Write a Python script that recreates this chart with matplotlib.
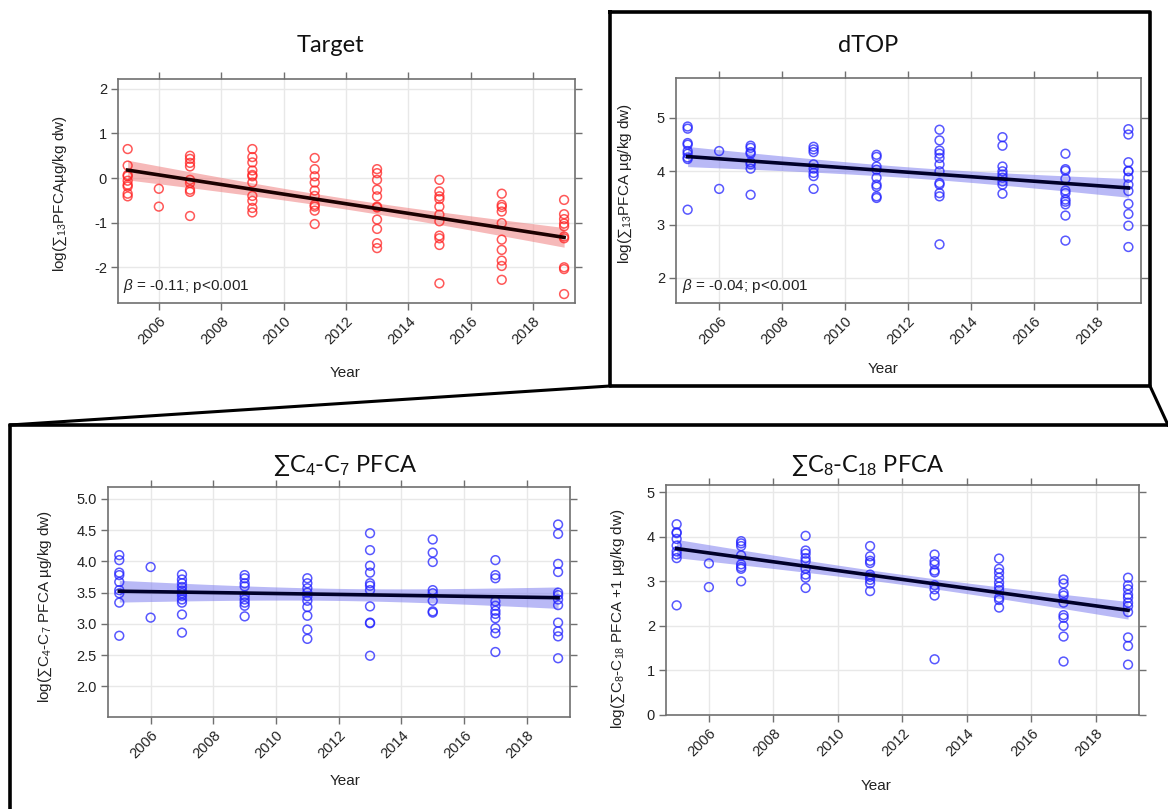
import numpy as np
import matplotlib
matplotlib.use("Agg")
import matplotlib.pyplot as plt
from matplotlib.lines import Line2D

plt.rcParams['font.family'] = ['Liberation Sans', 'DejaVu Sans']
plt.rcParams['mathtext.fontset'] = 'custom'
plt.rcParams['mathtext.rm'] = 'Liberation Sans'
plt.rcParams['mathtext.it'] = 'Liberation Sans:italic'
plt.rcParams['mathtext.bf'] = 'Liberation Sans:bold'

# ---------------- data ----------------
years = [2005, 2006, 2007, 2009, 2011, 2013, 2015, 2017, 2019]
year_ticks = [2006, 2008, 2010, 2012, 2014, 2016, 2018]

target_vals = [
    [0.65, 0.28, 0.07, 0.04, -0.06, -0.15, -0.19, -0.35, -0.41],
    [-0.24, -0.64],
    [0.50, 0.43, 0.34, 0.26, -0.04, -0.11, -0.26, -0.31, -0.85],
    [0.65, 0.47, 0.35, 0.17, 0.07, 0.04, -0.10, -0.40, -0.51, -0.67, -0.77],
    [0.45, 0.20, 0.04, -0.10, -0.28, -0.40, -0.60, -0.64, -0.73, -1.03],
    [0.20, 0.11, -0.04, -0.26, -0.41, -0.64, -0.66, -0.93, -1.14, -1.46, -1.57],
    [-0.04, -0.30, -0.41, -0.47, -0.64, -0.82, -0.97, -1.29, -1.35, -1.50, -2.36],
    [-0.35, -0.60, -0.65, -0.75, -1.01, -1.38, -1.61, -1.85, -1.97, -2.28],
    [-0.49, -0.81, -0.92, -1.02, -1.08, -1.31, -1.35, -2.00, -2.04, -2.60],
]

dtop_vals = [
    [4.84, 4.80, 4.53, 4.50, 4.38, 4.33, 4.26, 4.23, 3.28],
    [4.38, 3.67],
    [4.48, 4.44, 4.36, 4.33, 4.17, 4.13, 4.05, 3.56],
    [4.46, 4.41, 4.36, 4.13, 4.05, 3.97, 3.91, 3.67],
    [4.31, 4.27, 4.09, 4.03, 3.88, 3.75, 3.71, 3.53, 3.50],
    [4.78, 4.58, 4.39, 4.33, 4.25, 4.13, 4.00, 3.78, 3.75, 3.59, 3.53, 2.63],
    [4.64, 4.48, 4.09, 4.00, 3.94, 3.88, 3.81, 3.75, 3.58],
    [4.33, 4.04, 4.01, 3.86, 3.64, 3.59, 3.47, 3.43, 3.38, 3.17, 2.70],
    [4.79, 4.69, 4.17, 4.01, 4.00, 3.88, 3.75, 3.63, 3.39, 3.20, 2.98, 2.58],
]

c4c7_vals = [
    [4.10, 4.02, 3.82, 3.78, 3.67, 3.54, 3.49, 3.34, 2.81],
    [3.91, 3.10],
    [3.79, 3.71, 3.65, 3.59, 3.53, 3.49, 3.45, 3.39, 3.34, 3.15, 2.86],
    [3.78, 3.73, 3.65, 3.60, 3.45, 3.39, 3.34, 3.29, 3.12],
    [3.73, 3.65, 3.57, 3.50, 3.44, 3.37, 3.27, 3.13, 2.91, 2.76],
    [4.45, 4.18, 3.93, 3.82, 3.65, 3.61, 3.54, 3.28, 3.02, 3.01, 2.49],
    [4.35, 4.14, 3.99, 3.54, 3.49, 3.37, 3.20, 3.18],
    [4.02, 3.78, 3.73, 3.36, 3.29, 3.21, 3.16, 3.09, 2.93, 2.85, 2.55],
    [4.59, 4.44, 3.96, 3.83, 3.50, 3.46, 3.39, 3.30, 3.02, 2.88, 2.80, 2.45],
]

c8c18_vals = [
    [4.28, 4.10, 4.08, 3.95, 3.80, 3.67, 3.60, 3.52, 2.46],
    [3.40, 2.87],
    [3.90, 3.85, 3.79, 3.58, 3.38, 3.32, 3.28, 3.00],
    [4.02, 3.69, 3.62, 3.52, 3.45, 3.28, 3.15, 3.08, 2.85],
    [3.79, 3.56, 3.46, 3.41, 3.15, 3.10, 3.03, 2.95, 2.78],
    [3.60, 3.45, 3.38, 3.24, 3.20, 2.91, 2.82, 2.68, 1.25],
    [3.51, 3.28, 3.19, 3.08, 2.97, 2.88, 2.80, 2.63, 2.58, 2.41],
    [3.04, 2.95, 2.74, 2.68, 2.52, 2.24, 2.18, 2.00, 1.76, 1.20],
    [3.08, 2.91, 2.82, 2.70, 2.63, 2.52, 2.44, 2.31, 1.74, 1.55, 1.13],
]

titles = ["Target", "dTOP", "∑C$_4$-C$_7$ PFCA", "∑C$_8$-C$_{18}$ PFCA"]
ylabels = ["log(∑$_{13}$PFCAµg/kg dw)",
           "log(∑$_{13}$PFCA µg/kg dw)",
           "log(∑C$_4$-C$_7$ PFCA µg/kg dw)",
           "log(∑C$_8$-C$_{18}$ PFCA +1 µg/kg dw)"]
yticks_list = [[-2, -1, 0, 1, 2], [2, 3, 4, 5],
               [2.0, 2.5, 3.0, 3.5, 4.0, 4.5, 5.0], [0, 1, 2, 3, 4, 5]]
annotations = ["$\\beta$ = -0.11; p<0.001", "$\\beta$ = -0.04; p<0.001", None, None]

# ---------------- layout ----------------
W, H = 1168, 809
fig = plt.figure(figsize=(W / 100, H / 100), dpi=100)
fig.patch.set_facecolor('white')

def rect(l, t, r, b):
    return [l / W, 1 - b / H, (r - l) / W, (b - t) / H]

panels = [
    dict(vals=target_vals, rect=rect(118, 79, 575, 303), ylim=(-2.8, 2.22),
         xlim=(2004.69, 2019.35), col='#ff2020', band='#f08080', line='#1c0000',
         ylab=(-0.107, 0.49), xlab=(0.497, -0.282), title=(330, 45), fmt='%d'),
    dict(vals=dtop_vals, rect=rect(676, 78, 1141, 303), ylim=(1.53, 5.75),
         xlim=(2004.63, 2019.40), col='#2020ff', band='#8080f0', line='#00002a',
         ylab=(-0.090, 0.53), xlab=(0.445, -0.262), title=(868, 45), fmt='%d'),
    dict(vals=c4c7_vals, rect=rect(108, 487, 570, 717), ylim=(1.51, 5.19),
         xlim=(2004.64, 2019.38), col='#2020ff', band='#8080f0', line='#00002a',
         ylab=(-0.117, 0.48), xlab=(0.513, -0.248), title=(345, 465), fmt='%.1f'),
    dict(vals=c8c18_vals, rect=rect(666, 485, 1139, 715), ylim=(0.0, 5.16),
         xlim=(2004.67, 2019.34), col='#2020ff', band='#8080f0', line='#00002a',
         ylab=(-0.082, 0.42), xlab=(0.444, -0.278), title=(868, 465), fmt='%d'),
]

for i, p in enumerate(panels):
    ax = fig.add_axes(p['rect'])
    x = np.concatenate([[y] * len(v) for y, v in zip(years, p['vals'])]).astype(float)
    yv = np.concatenate(p['vals']).astype(float)

    # regression and 95% CI
    slope, icpt = np.polyfit(x, yv, 1)
    n = len(x)
    resid = yv - (slope * x + icpt)
    s = np.sqrt(np.sum(resid ** 2) / (n - 2))
    xbar = x.mean()
    sxx = np.sum((x - xbar) ** 2)
    xf = np.linspace(min(years), max(years), 100)
    yf = slope * xf + icpt
    se = s * np.sqrt(1.0 / n + (xf - xbar) ** 2 / sxx)
    ax.fill_between(xf, yf - 1.99 * se, yf + 1.99 * se, color=p['band'],
                    alpha=0.55, lw=0, zorder=2)

    ax.scatter(x, yv, s=40, facecolors='none', edgecolors=p['col'],
               linewidths=1.1, alpha=0.75, zorder=3)
    ax.plot(xf, yf, color=p['line'], lw=2.6, zorder=4)

    ax.set_xlim(*p['xlim'])
    ax.set_ylim(*p['ylim'])
    ax.set_xticks(year_ticks)
    ax.set_yticks(yticks_list[i])
    ax.set_yticklabels([p['fmt'] % t for t in yticks_list[i]])
    ax.set_xticklabels([str(t) for t in year_ticks], rotation=45, ha='right',
                       rotation_mode='anchor')
    ax.grid(True, color='#e8e8e8', lw=1.0, zorder=0)
    ax.set_axisbelow(True)
    for sp in ax.spines.values():
        sp.set_color('#707070')
        sp.set_linewidth(1.2)
    ax.tick_params(direction='out', length=5, width=1.0, color='#707070',
                   labelsize=10.5, labelcolor='#222222', top=True, right=True,
                   labeltop=False, labelright=False, pad=3)

    ax.set_ylabel(ylabels[i], fontsize=11, color='#222222')
    ax.yaxis.set_label_coords(*p['ylab'])
    ax.set_xlabel("Year", fontsize=11, color='#222222')
    ax.xaxis.set_label_coords(*p['xlab'])

    if annotations[i]:
        ax.text(0.012, 0.035, annotations[i], transform=ax.transAxes,
                fontsize=11, color='#222222', ha='left', va='bottom')

    tx, ty = p['title']
    fig.text(tx / W, 1 - ty / H, titles[i], fontsize=17, ha='center',
             va='center', family=['Lato', 'DejaVu Sans'], color='#111111')

# ---------------- frames ----------------
def fline(xs, ys, lw=2.6):
    fig.add_artist(Line2D([v / W for v in xs], [1 - v / H for v in ys],
                          transform=fig.transFigure, color='black', lw=lw,
                          solid_capstyle='projecting'))

# box around dTOP
fline([610, 1150, 1150, 610, 610], [12, 12, 386, 386, 12])
# connecting lines
fline([610, 10], [386, 425], lw=2.2)
fline([1150, 1168], [386, 425], lw=2.2)
# lower box
fline([1168, 10, 10], [425, 425, 809])

fig.savefig("out.png", dpi=100, facecolor='white')
